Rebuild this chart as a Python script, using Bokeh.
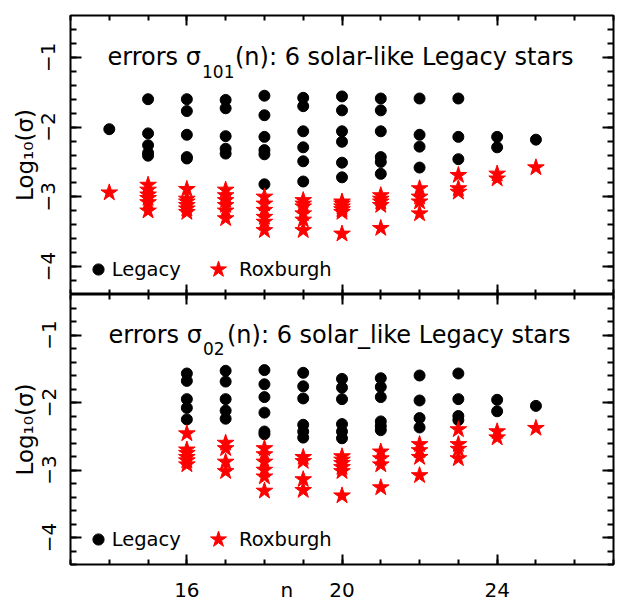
from bokeh.plotting import figure
from bokeh.models import (ColumnDataSource, LinearAxis, SingleIntervalTicker, FixedTicker,
                          Range1d, Label, Legend, LegendItem, CustomJSTickFormatter)
from bokeh.layouts import column
from bokeh.embed import file_html
from bokeh.resources import INLINE

# ---------------- data ----------------
n_values = [14, 15, 16, 17, 18, 19, 20, 21, 22, 23, 24, 25]

# log10(sigma_101) per radial order n
legacy_101 = [
    [-2.03],
    [-1.60, -2.09, -2.26, -2.37, -2.41],
    [-1.60, -1.77, -2.11, -2.43, -2.45],
    [-1.61, -1.73, -2.13, -2.31, -2.38],
    [-1.55, -1.83, -2.14, -2.33, -2.39, -2.82],
    [-1.58, -1.70, -2.06, -2.29, -2.49, -2.78],
    [-1.56, -1.76, -2.06, -2.21, -2.51, -2.72],
    [-1.59, -1.76, -2.06, -2.43, -2.50, -2.67],
    [-1.59, -2.11, -2.28, -2.58],
    [-1.59, -2.14, -2.46],
    [-2.14, -2.29],
    [-2.18],
]
roxburgh_101 = [
    [-2.94],
    [-2.83, -2.90, -2.97, -3.02, -3.08, -3.20],
    [-2.89, -3.03, -3.07, -3.12, -3.17, -3.22],
    [-2.90, -2.98, -3.05, -3.12, -3.20, -3.31],
    [-3.00, -3.10, -3.19, -3.29, -3.36, -3.48],
    [-3.05, -3.10, -3.14, -3.24, -3.33, -3.48],
    [-3.07, -3.10, -3.14, -3.18, -3.22, -3.53],
    [-2.98, -3.03, -3.07, -3.12, -3.45],
    [-2.88, -3.00, -3.07, -3.24],
    [-2.69, -2.88, -2.93],
    [-2.67, -2.74],
    [-2.58],
]

# log10(sigma_02) per radial order n
legacy_02 = [
    [],
    [],
    [-1.57, -1.68, -1.95, -2.08, -2.25],
    [-1.53, -1.69, -1.95, -2.12, -2.24],
    [-1.52, -1.73, -1.92, -2.15, -2.43, -2.47],
    [-1.56, -1.76, -1.94, -2.33, -2.43, -2.52],
    [-1.65, -1.78, -1.95, -2.32, -2.43, -2.53],
    [-1.64, -1.77, -1.92, -2.28, -2.35, -2.41],
    [-1.60, -1.97, -2.23, -2.37],
    [-1.57, -1.95, -2.20, -2.26],
    [-1.96, -2.13],
    [-2.05],
]
roxburgh_02 = [
    [],
    [],
    [-2.46, -2.70, -2.75, -2.81, -2.86, -2.92],
    [-2.60, -2.68, -2.88, -3.02],
    [-2.68, -2.77, -2.88, -3.00, -3.10, -3.31],
    [-2.81, -2.87, -3.14, -3.30],
    [-2.80, -2.85, -2.90, -2.96, -3.02, -3.38],
    [-2.73, -2.83, -2.92, -3.26],
    [-2.62, -2.71, -2.81, -3.08],
    [-2.40, -2.62, -2.69, -2.83],
    [-2.43, -2.52],
    [-2.38],
]

y_tick_labels = {-1: "\u22121", -2: "\u22122", -3: "\u22123", -4: "\u22124"}
x_tick_labels = {16: "16", 20: "20", 24: "24"}
x_axis_title = "n"
x_axis_title_pos = 18.58
y_axis_title = "Log\u2081\u2080(\u03c3)"
series_names = ["Legacy", "Roxburgh"]

# ---------------- styling ----------------
FONT = "DejaVu Sans"
W = 617
LEFT = 70
RIGHT = 4
X_LO, X_HI = 13, 27
Y_LO, Y_HI = -4.4, -0.4

blank = CustomJSTickFormatter(code="return ''")


def flatten(groups):
    xs, ys = [], []
    for n, vals in zip(n_values, groups):
        xs += [n] * len(vals)
        ys += list(vals)
    return dict(n=xs, s=ys)


def tick_axis(ticker, tin, minor_in, show, orientation=None, standoff=0, overrides=None):
    ax = LinearAxis(ticker=ticker, axis_line_color=None,
                    major_tick_in=tin, major_tick_out=0,
                    minor_tick_in=minor_in, minor_tick_out=0,
                    major_tick_line_color="black", minor_tick_line_color="black",
                    major_tick_line_width=2, minor_tick_line_width=2)
    if show:
        ax.major_label_text_font = FONT
        ax.major_label_text_font_size = "20px"
        ax.major_label_text_color = "black"
        ax.major_label_standoff = standoff
        if orientation is not None:
            ax.major_label_orientation = orientation
        if overrides:
            ax.major_label_overrides = overrides
    else:
        ax.formatter = blank
        ax.major_label_text_font_size = "0px"
        ax.major_label_text_alpha = 0
        ax.major_label_standoff = 0
    return ax


def add_text(p, text, x_off, y, size):
    p.add_layout(Label(x=X_LO, y=y, x_offset=x_off, text=text,
                       text_font=FONT, text_font_size=size, text_color="black",
                       text_baseline="alphabetic", text_align="left"))


def make_panel(height, top, legacy, roxburgh, title_parts, show_x_labels):
    p = figure(width=W, height=height,
               x_range=Range1d(X_LO, X_HI), y_range=Range1d(Y_LO, Y_HI),
               output_backend="svg", toolbar_location=None,
               x_axis_location=None, y_axis_location=None,
               min_border_left=LEFT, min_border_right=RIGHT,
               min_border_top=top, min_border_bottom=0)
    p.outline_line_color = "black"
    p.outline_line_width = 2
    p.background_fill_color = "white"
    p.border_fill_color = "white"
    p.grid.visible = False

    xt = SingleIntervalTicker(interval=4, num_minor_ticks=4)
    yt = SingleIntervalTicker(interval=1, num_minor_ticks=5)

    yax = tick_axis(yt, 11, 6, True, orientation="vertical", standoff=15,
                    overrides=y_tick_labels)
    yax.axis_label = y_axis_title
    yax.axis_label_text_font = FONT
    yax.axis_label_text_font_size = "23px"
    yax.axis_label_text_font_style = "normal"
    yax.axis_label_text_color = "black"
    yax.axis_label_standoff = 1
    p.add_layout(yax, "left")
    p.add_layout(tick_axis(yt, 11, 6, False), "right")
    p.add_layout(tick_axis(xt, 10, 5, False), "above")
    p.add_layout(tick_axis(xt, 10, 5, False), "below")

    if show_x_labels:
        labels = dict(x_tick_labels)
        labels[x_axis_title_pos] = x_axis_title
        lab_ticker = FixedTicker(ticks=sorted(labels.keys()), minor_ticks=[])
        lab_ax = LinearAxis(ticker=lab_ticker, axis_line_color=None,
                            major_tick_in=0, major_tick_out=0,
                            minor_tick_in=0, minor_tick_out=0,
                            major_label_overrides=labels,
                            major_label_text_font=FONT,
                            major_label_text_font_size="20px",
                            major_label_text_color="black",
                            major_label_standoff=13)
        p.add_layout(lab_ax, "below")

    r_leg = p.scatter("n", "s", source=ColumnDataSource(flatten(legacy)),
                      marker="circle", size=11, fill_color="black", line_color="black")
    r_rox = p.scatter("n", "s", source=ColumnDataSource(flatten(roxburgh)),
                      marker="star", size=17.5, fill_color="red", line_color="red")

    common = dict(orientation="horizontal", padding=0, margin=0, spacing=0,
                  border_line_color=None, background_fill_alpha=0,
                  label_text_font=FONT, label_text_font_size="19.5px",
                  label_text_color="black", label_height=20, label_width=10)
    leg1 = Legend(items=[LegendItem(label=series_names[0], renderers=[r_leg])],
                  location=(13.7, 11), glyph_width=28, glyph_height=28,
                  label_standoff=-2, **common)
    leg2 = Legend(items=[LegendItem(label=series_names[1], renderers=[r_rox])],
                  location=(127, 4), glyph_width=42, glyph_height=42,
                  label_standoff=-9, **common)
    p.add_layout(leg1)
    p.add_layout(leg2)

    # panel caption with subscript
    (t1, o1), (t2, o2), (t3, o3) = title_parts
    add_text(p, t1, o1, -1.0, "24px")
    add_text(p, t2, o2, -1.2, "17px")
    add_text(p, t3, o3, -1.0, "24px")
    return p


p1 = make_panel(294, 15, legacy_101, roxburgh_101,
                [("errors \u03c3", 37), ("101", 131.5), ("(n): 6 solar-like Legacy stars", 164.5)],
                False)
p2 = make_panel(310, 0, legacy_02, roxburgh_02,
                [("errors \u03c3", 38), ("02", 132.5), ("(n): 6 solar_like Legacy stars", 156.5)],
                True)

layout = column(p1, p2, spacing=0)

with open("out.html", "w") as f:
    f.write(file_html(layout, INLINE))
